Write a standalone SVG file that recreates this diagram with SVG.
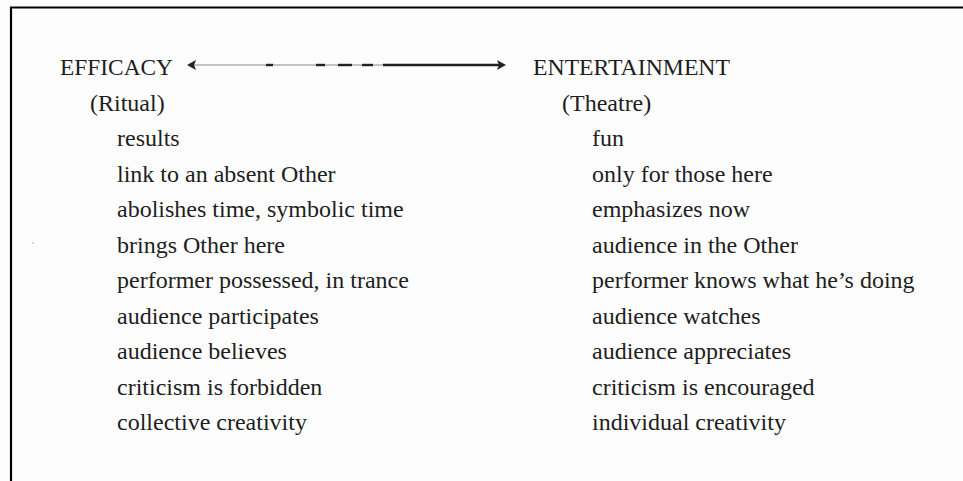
<svg xmlns="http://www.w3.org/2000/svg" width="963" height="481" viewBox="0 0 963 481">
  <defs>
    <style>
      .t { font-family: "Liberation Serif", "Times New Roman", serif; font-size: 24px; fill: #1e1e1e; }
      .frame { stroke: #000; stroke-width: 2.2; fill: none; }
      .base { stroke: #8a8a8a; stroke-width: 1.2; }
      .dk { stroke: #222; stroke-width: 2.4; }
      .head { fill: #222; }
    </style>
  </defs>
  <rect width="963" height="481" fill="#fdfdfd"/>
  <path class="frame" d="M11,481 V7.5 H963"/>
  <rect x="32.5" y="242.5" width="1.2" height="1.2" fill="#999"/>

  <g id="efficacy">
    <text class="t" x="60" y="75" textLength="113" lengthAdjust="spacingAndGlyphs">EFFICACY</text>
    <text class="t" x="90" y="110.5">(Ritual)</text>
    <text class="t" x="117" y="146">results</text>
    <text class="t" x="117" y="181.5">link to an absent Other</text>
    <text class="t" x="117" y="217">abolishes time, symbolic time</text>
    <text class="t" x="117" y="252.5">brings Other here</text>
    <text class="t" x="117" y="288">performer possessed, in trance</text>
    <text class="t" x="117" y="323.5">audience participates</text>
    <text class="t" x="117" y="359">audience believes</text>
    <text class="t" x="117" y="394.5">criticism is forbidden</text>
    <text class="t" x="117" y="430">collective creativity</text>
  </g>

  <g id="entertainment">
    <text class="t" x="533" y="75" textLength="197" lengthAdjust="spacingAndGlyphs">ENTERTAINMENT</text>
    <text class="t" x="562" y="110.5">(Theatre)</text>
    <text class="t" x="592" y="146">fun</text>
    <text class="t" x="592" y="181.5">only for those here</text>
    <text class="t" x="592" y="217">emphasizes now</text>
    <text class="t" x="592" y="252.5">audience in the Other</text>
    <text class="t" x="592" y="288">performer knows what he’s doing</text>
    <text class="t" x="592" y="323.5">audience watches</text>
    <text class="t" x="592" y="359">audience appreciates</text>
    <text class="t" x="592" y="394.5">criticism is encouraged</text>
    <text class="t" x="592" y="430">individual creativity</text>
  </g>

  <g id="connectors">
    <line class="base" x1="192" y1="65" x2="500" y2="65"/>
    <line class="dk" x1="266" y1="65" x2="273" y2="65"/>
    <line class="dk" x1="316" y1="65" x2="325" y2="65"/>
    <line class="dk" x1="338" y1="65" x2="352" y2="65"/>
    <line class="dk" x1="362" y1="65" x2="373" y2="65"/>
    <line class="dk" x1="383" y1="65" x2="500" y2="65"/>
    <path class="head" d="M187,65 L196,60 L194,65 L196,70 Z"/>
    <path class="head" d="M506,65 L497,60 L499,65 L497,70 Z"/>
  </g>
</svg>
